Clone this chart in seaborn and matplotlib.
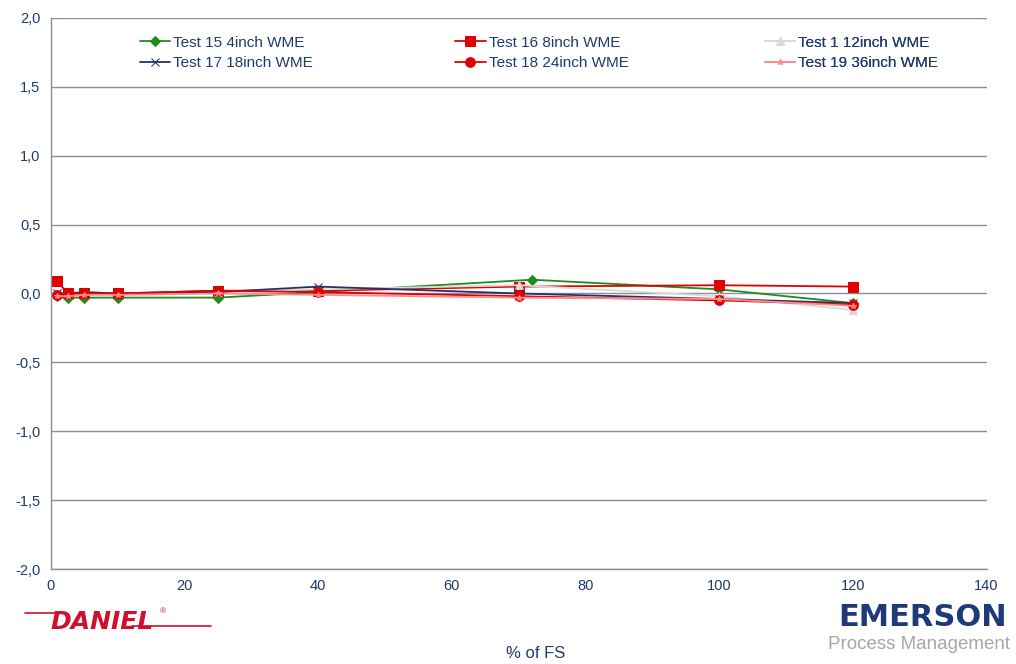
import matplotlib
matplotlib.use("Agg")
import matplotlib.pyplot as plt
import seaborn as sns
import pandas as pd
from matplotlib.ticker import FuncFormatter, MultipleLocator

sns.set_theme(style="white")
plt.rcParams["font.family"] = ["Liberation Sans", "DejaVu Sans"]

# %% data
fs_15 = [1, 2.5, 5, 10, 25, 40, 72, 100, 120]
err_15 = [-0.02, -0.03, -0.03, -0.03, -0.03, 0.01, 0.10, 0.03, -0.07]

fs_16 = [1, 2.5, 5, 10, 25, 40, 70, 100, 120]
err_16 = [0.09, 0.0, 0.0, 0.0, 0.02, 0.02, 0.05, 0.06, 0.05]

fs_1 = [1, 2.5, 5, 10, 25, 40, 70, 100, 120]
err_1 = [0.0, 0.0, 0.01, 0.0, 0.01, 0.03, 0.06, -0.02, -0.12]

fs_17 = [1, 2.5, 5, 10, 25, 40, 70, 100, 120]
err_17 = [0.0, 0.0, 0.01, 0.0, 0.01, 0.05, 0.0, -0.04, -0.07]

fs_18 = [1, 2.5, 5, 10, 25, 40, 70, 100, 120]
err_18 = [-0.01, 0.0, 0.0, 0.0, 0.02, 0.01, -0.02, -0.05, -0.08]

fs_19 = [1, 2.5, 5, 10, 25, 40, 70, 100, 120]
err_19 = [-0.02, -0.02, -0.01, -0.01, 0.0, -0.01, -0.03, -0.04, -0.09]

series = [
    ("Test 15 4inch WME", fs_15, err_15, "#1E8C1E", "D", 5),
    ("Test 16 8inch WME", fs_16, err_16, "#E00000", "s", 7),
    ("Test 1 12inch WME", fs_1, err_1, "#D9D9D9", "^", 6),
    ("Test 17 18inch WME", fs_17, err_17, "#27306B", "x", 6),
    ("Test 18 24inch WME", fs_18, err_18, "#E00000", "o", 7),
    ("Test 19 36inch WME", fs_19, err_19, "#FF8C8C", "*", 4),
]

fig = plt.figure(figsize=(10.16, 6.64), dpi=100)
ax = fig.add_axes([0.050, 0.143, 0.921, 0.830])

handles = {}
for name, xs, ys, color, mk, ms in series:
    df = pd.DataFrame({"fs": xs, "err": ys})
    sns.lineplot(data=df, x="fs", y="err", ax=ax, color=color, marker=mk,
                 markersize=ms, markeredgecolor=color, linewidth=1.3,
                 label=name, legend=False)
    handles[name] = ax.lines[-1]

ax.set_xlim(0, 140)
ax.set_ylim(-2.0, 2.0)
ax.xaxis.set_major_locator(MultipleLocator(20))
ax.yaxis.set_major_locator(MultipleLocator(0.5))
ax.yaxis.set_major_formatter(FuncFormatter(lambda v, p: f"{v:.1f}".replace(".", ",")))
ax.yaxis.grid(True, color="#8C8C9C", linewidth=1)
ax.set_axisbelow(True)

for s in ["top", "right"]:
    ax.spines[s].set_visible(False)
for s in ["left", "bottom"]:
    ax.spines[s].set_color("#8C8C9C")
    ax.spines[s].set_linewidth(1)

ax.tick_params(axis="both", colors="#8C8C9C", labelcolor="#1F3A6E",
               labelsize=10.5, length=4, direction="out")
ax.set_xlabel("")
ax.set_ylabel("")

# legend: three columns placed one by one
columns = [
    (["Test 15 4inch WME", "Test 17 18inch WME"], 0.095),
    (["Test 16 8inch WME", "Test 18 24inch WME"], 0.432),
    (["Test 1 12inch WME", "Test 19 36inch WME"], 0.763),
]
for names, xpos in columns:
    leg = ax.legend([handles[n] for n in names], names, frameon=False,
                    loc="upper left", bbox_to_anchor=(xpos, 0.968),
                    borderpad=0, borderaxespad=0, fontsize=11,
                    handlelength=2.0, handletextpad=0.2, labelspacing=0.45)
    for t in leg.get_texts():
        t.set_color("#1F3A6E")
    ax.add_artist(leg)

fig.text(0.527, 0.004, "% of FS", ha="center", va="bottom",
         fontsize=12, color="#1F3A6E")

# logos as text
fig.text(0.050, 0.064, "DANIEL", fontsize=18, fontweight="heavy",
         style="italic", color="#D0102A", va="center",
         family=["DejaVu Sans"])
fig.add_artist(plt.Line2D([0.025, 0.055], [0.077, 0.077], color="#D0102A", lw=1.2))
fig.add_artist(plt.Line2D([0.13, 0.208], [0.057, 0.057], color="#D0102A", lw=1.2))
fig.text(0.157, 0.078, "®", fontsize=6, color="#D0102A", va="center")
fig.text(0.908, 0.070, "EMERSON", fontsize=22, fontweight="bold",
         color="#1F3A78", ha="center", va="center", family=["DejaVu Sans"])
fig.text(0.905, 0.030, "Process Management", fontsize=13.5,
         color="#A6A6A6", ha="center", va="center")

fig.savefig("out.png", dpi=100)
